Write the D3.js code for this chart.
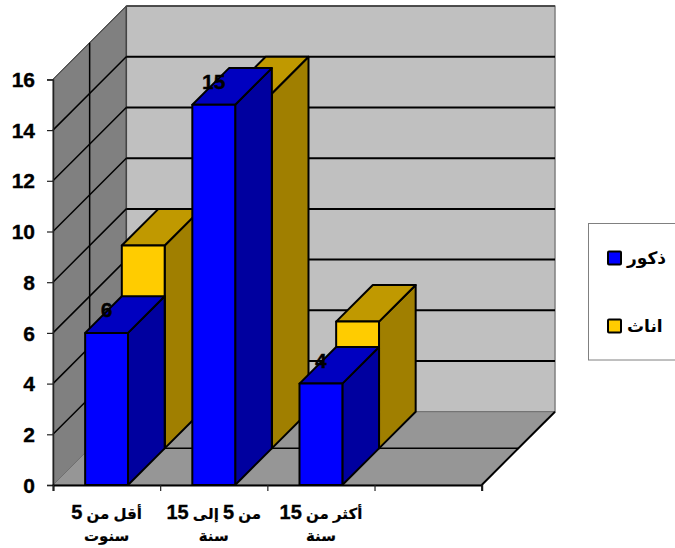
<!DOCTYPE html>
<html>
<head>
<meta charset="utf-8">
<style>
  html, body { margin: 0; padding: 0; background: #fff; }
  svg { display: block; }
  text { font-family: "Liberation Sans", "DejaVu Sans", sans-serif; font-weight: bold; fill: #000; }
  .num { stroke: #000; stroke-width: 0.35px; }
  .word { stroke: #000; stroke-width: 0.2px; }
</style>
<script src="https://cdn.jsdelivr.net/npm/d3@7/dist/d3.min.js"></script>
</head>
<body>
<svg id="chart" width="675" height="548"></svg>
<script>
// Chart data
const categories = ["أقل من 5\nسنوت", "من 5 إلى 15\nسنة", "أكثر من 15\nسنة", ""];
const maleValues = [6, 15, 4];
const femaleValues = [8, 14, 5];
const seriesNames = ["ذكور", "اناث"];
const yTicks = [0, 2, 4, 6, 8, 10, 12, 14, 16];

const svg = d3.select("#chart");

// Front plane scales plus an oblique depth scale for the 3D look
const x = d3.scaleBand().domain(d3.range(categories.length)).range([53, 481.7])
  .paddingInner(0.6).paddingOuter(0.3);
const xEdge = d3.scaleLinear().domain([0, categories.length]).range([53, 481.7]);
const y = d3.scaleLinear().domain([0, 16]).range([485, 79.4]);
const depth = d3.scaleLinear().domain([0, 1]).range([0, 73.3]);

// Projects (front-plane x, value, depth fraction) to the page
const pt = (px, v, d) => [px + depth(d), y(v) - depth(d)];
const poly = (g, pts, fill, stroke, width) => g.append("polygon")
  .attr("points", pts.map(p => p.join(",")).join(" "))
  .attr("fill", fill).attr("stroke", stroke).attr("stroke-width", width)
  .attr("stroke-linejoin", "round");
const line = (g, a, b, stroke, width) => g.append("line")
  .attr("x1", a[0]).attr("y1", a[1]).attr("x2", b[0]).attr("y2", b[1])
  .attr("stroke", stroke).attr("stroke-width", width);

const xL = xEdge(0), xR = xEdge(categories.length);

// Walls and floor
const walls = svg.append("g");
poly(walls, [pt(xL, 0, 1), pt(xR, 0, 1), pt(xR, 16, 1), pt(xL, 16, 1)], "#c0c0c0", "#808080", 1.5);
poly(walls, [pt(xL, 0, 0), pt(xL, 0, 1), pt(xL, 16, 1), pt(xL, 16, 0)], "#808080", "#555", 1);
poly(walls, [pt(xL, 0, 0), pt(xR, 0, 0), pt(xR, 0, 1), pt(xL, 0, 1)], "#969696", "#707070", 1);
line(walls, pt(xL, 16, 1), pt(xR, 16, 1), "#333", 1.5);
line(walls, pt(xL, 16, 0), pt(xL, 16, 1), "#333", 1);
line(walls, pt(xL, 0, 1), pt(xL, 16, 1), "#444", 1.5);
line(walls, pt(xR, 0, 0), pt(xR, 0, 1), "#000", 2);

// Gridlines across the walls, and the mid-depth lines
yTicks.filter(v => v > 0 && v < 16).forEach(v => {
  line(walls, pt(xL, v, 0), pt(xL, v, 1), "#000", 1.5);
  line(walls, pt(xL, v, 1), pt(xR, v, 1), "#000", 2);
});
line(walls, pt(xL, 0, 0.5), pt(xL, 16, 0.5), "#000", 1.5);
line(walls, pt(xL, 0, 0.5), pt(xR, 0, 0.5), "#000", 1.5);

// One oblique bar: front, top and side faces
function bar(g, i, value, d, colors) {
  const a = x(i), b = a + x.bandwidth(), s = 0.5;
  poly(g, [pt(b, 0, d), pt(b, 0, d + s), pt(b, value, d + s), pt(b, value, d)], colors.side, "#000", 2);
  poly(g, [pt(a, value, d), pt(b, value, d), pt(b, value, d + s), pt(a, value, d + s)], colors.top, "#000", 2);
  poly(g, [pt(a, 0, d), pt(b, 0, d), pt(b, value, d), pt(a, value, d)], colors.front, "#000", 2);
}
const maleColors = { front: "#0000ff", top: "#0000c0", side: "#00009f" };
const femaleColors = { front: "#ffcc00", top: "#c09900", side: "#a07f00" };

const bars = svg.append("g");
femaleValues.forEach((v, i) => bar(bars, i, v, 0.5, femaleColors));
maleValues.forEach((v, i) => bar(bars, i, v, 0, maleColors));

// Axes
const yAxis = svg.append("g").attr("transform", `translate(${xL},0)`)
  .call(d3.axisLeft(y).tickValues(yTicks).tickSize(6).tickPadding(12));
yAxis.selectAll("text").attr("class", "num").style("font-size", "21px").attr("dy", "0.34em");
yAxis.selectAll("line").attr("stroke", "#222").attr("stroke-width", 1.2);
yAxis.select(".domain").attr("stroke", "#222").attr("stroke-width", 1.5);

const xAxis = svg.append("g").attr("transform", `translate(0,${y(0)})`)
  .call(d3.axisBottom(xEdge).ticks(categories.length).tickSize(6).tickFormat(""));
xAxis.selectAll("line").attr("stroke", "#222").attr("stroke-width", 1.2);
xAxis.select(".domain").attr("stroke", "#000").attr("stroke-width", 2);

// Category labels, one text line per row; numerals run larger than the Arabic words
const labels = svg.append("g").attr("text-anchor", "middle");
categories.forEach((c, i) => {
  c.split("\n").filter(Boolean).forEach((row, r) => {
    const t = labels.append("text")
      .attr("class", "word")
      .attr("x", x(i) + x.bandwidth() / 2)
      .attr("y", 518.5 + r * 22)
      .style("font-size", "15px");
    row.split(/(\d+)/).forEach(part => {
      const span = t.append("tspan").text(part);
      if (/\d/.test(part)) span.attr("class", "num").style("font-size", "20px");
    });
  });
});

// Value labels above the male bars
svg.append("g").attr("text-anchor", "middle").style("font-size", "21px")
  .selectAll("text").data(maleValues).join("text")
  .attr("class", "num")
  .attr("x", (d, i) => x(i) + x.bandwidth() / 2)
  .attr("y", d => y(d) - 15.5)
  .text(d => d);

// Legend
const legend = svg.append("g");
legend.append("rect").attr("x", 588.5).attr("y", 223.5).attr("width", 100).attr("height", 136.5)
  .attr("fill", "#fff").attr("stroke", "#808080").attr("stroke-width", 1);
[maleColors, femaleColors].forEach((c, i) => {
  const yy = i === 0 ? 251.5 : 319.5;
  legend.append("rect").attr("x", 608).attr("y", yy).attr("width", 13).attr("height", 13)
    .attr("fill", c.front).attr("stroke", "#000").attr("stroke-width", 2).attr("rx", 1);
  legend.append("text").attr("x", 627).attr("y", yy + 12)
    .attr("text-anchor", "start").style("font-size", "17px").text(seriesNames[i]);
});
</script>
</body>
</html>
